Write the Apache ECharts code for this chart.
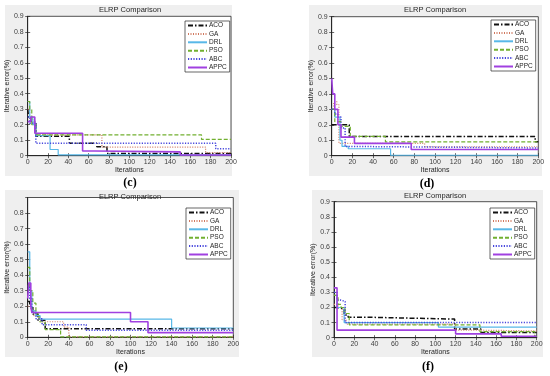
<!DOCTYPE html>
<html><head><meta charset="utf-8">
<script src="https://cdn.jsdelivr.net/npm/echarts@6/dist/echarts.min.js"></script>
<style>html,body{margin:0;padding:0;background:#fff}#c{width:550px;height:376px}</style>
</head><body><div id="c"></div>
<script>
// ---- data (iteration, iterative error) change points of each step curve ----
const seriesNames = ['ACO','GA','DRL','PSO','ABC','APPC'];
const panelLabels = ['(c)','(d)','(e)','(f)'];
const xMin = 0, xMax = 200, xStep = 20;
const yMin = 0, yMax = 0.9, yStep = 0.1;

const c_ACO  = [[0,0.30],[1,0.24],[3,0.22],[8,0.125],[41,0.08],[68,0.058],[78,0.015],[200,0.015]];
const c_GA   = [[0,0.30],[2,0.25],[5,0.20],[8,0.135],[73,0.055],[175,0.02],[200,0.02]];
const c_DRL  = [[0,0.35],[2,0.25],[5,0.20],[8,0.13],[22,0.04],[30,0.005],[200,0.005]];
const c_PSO  = [[0,0.35],[2,0.30],[4,0.20],[8,0.135],[171,0.105],[200,0.105]];
const c_ABC  = [[0,0.25],[2,0.21],[8,0.08],[185,0.045],[200,0.045]];
const c_APPC = [[0,0.22],[3,0.25],[7,0.145],[54,0.03],[66,0.025],[150,0.005],[200,0.005]];

const d_ACO  = [[0,0.20],[17,0.125],[197,0.09],[200,0.09]];
const d_GA   = [[0,0.30],[2,0.35],[5,0.33],[7,0.08],[90,0.058],[200,0.058]];
const d_DRL  = [[0,0.30],[3,0.25],[8,0.10],[10,0.06],[16,0.045],[57,0.003],[200,0.003]];
const d_PSO  = [[0,0.30],[3,0.22],[9,0.19],[18,0.125],[52,0.09],[200,0.09]];
const d_ABC  = [[0,0.30],[3,0.27],[6,0.25],[9,0.18],[13,0.06],[18,0.05],[200,0.05]];
const d_APPC = [[0,0.50],[1,0.40],[3,0.30],[6,0.20],[9,0.12],[22,0.08],[77,0.04],[200,0.04]];

const e_ACO  = [[0,0.23],[2,0.20],[5,0.15],[10,0.11],[17,0.055],[200,0.055]];
const e_GA   = [[0,0.20],[3,0.18],[6,0.14],[12,0.10],[35,0.065],[40,0.003],[200,0.003]];
const e_DRL  = [[0,0.55],[2,0.30],[4,0.17],[8,0.14],[12,0.117],[140,0.06],[200,0.06]];
const e_PSO  = [[0,0.45],[2,0.30],[5,0.22],[8,0.15],[11,0.10],[17,0.05],[32,0.003],[200,0.003]];
const e_ABC  = [[0,0.33],[2,0.25],[4,0.16],[8,0.12],[14,0.08],[57,0.045],[200,0.045]];
const e_APPC = [[0,0.25],[1,0.35],[3,0.20],[4,0.16],[100,0.10],[117,0.03],[200,0.03]];

const f_ACO  = [[0,0.20],[3,0.19],[10,0.15],[14,0.135],[37,0.123],[119,0.057],[145,0.035],[200,0.035]];
const f_GA   = [[0,0.22],[4,0.20],[8,0.12],[12,0.09],[120,0.05],[142,0.045],[200,0.045]];
const f_DRL  = [[0,0.28],[3,0.20],[10,0.10],[103,0.07],[200,0.07]];
const f_PSO  = [[0,0.28],[4,0.22],[7,0.20],[11,0.16],[15,0.085],[144,0.04],[198,0.01],[200,0.01]];
const f_ABC  = [[0,0.30],[3,0.25],[6,0.24],[11,0.10],[200,0.10]];
const f_APPC = [[0,0.33],[3,0.05],[120,0.025],[165,0.01],[200,0.01]];

const panelData = [
  [c_ACO,c_GA,c_DRL,c_PSO,c_ABC,c_APPC],
  [d_ACO,d_GA,d_DRL,d_PSO,d_ABC,d_APPC],
  [e_ACO,e_GA,e_DRL,e_PSO,e_ABC,e_APPC],
  [f_ACO,f_GA,f_DRL,f_PSO,f_ABC,f_APPC]
];

// ---- layout / styles ----
const FONT = 'Liberation Sans';
const grids = [
  {left:27.7, top:16.3, width:203.3, height:139.4},
  {left:331.7, top:16.7, width:206.6, height:139},
  {left:27.7, top:197.5, width:205.6, height:139.8},
  {left:334, top:201.7, width:202.7, height:136}
];
const panels = [
  {x:5, y:5, w:227, h:171},
  {x:309, y:5, w:233, h:171},
  {x:5, y:190, w:234, h:167},
  {x:312, y:190, w:231, h:167}
];
const titlesPos = [[130,10],[435,10],[130,197],[435,196]];
const capPos = [[130,183],[427,184],[121,367],[428,367]];
const legendPos = [[185,21],[491,20],[186,208],[490,208]];
const styles = {
  ACO:  {color:'#111111', width:1.5, type:[5,2,1.5,2]},
  GA:   {color:'#d0795f', width:1.2, type:[1,1.5]},
  DRL:  {color:'#58b8e8', width:1.2, type:'solid'},
  PSO:  {color:'#72b030', width:1.2, type:[4,2]},
  ABC:  {color:'#4646dc', width:1.5, type:[1.2,1.5]},
  APPC: {color:'#a040e0', width:1.6, type:'solid'}
};

const axisLineStyle = {lineStyle:{color:'#262626', width:0.8}};
const tick = {show:true, inside:true, length:2.5, lineStyle:{color:'#262626', width:0.7}};
const labelStyle = {fontSize:7, color:'#404040', fontFamily:FONT};

const xAxis = [], yAxis = [], series = [], legend = [], graphic = [];
panels.forEach(p => graphic.push({type:'rect', z:-10, shape:{x:p.x, y:p.y, width:p.w, height:p.h}, style:{fill:'#efefef'}}));

grids.forEach((g, i) => {
  const hideTop = (i === 2);
  xAxis.push({gridIndex:i, type:'value', min:xMin, max:xMax, interval:xStep, position:'bottom',
    name:'Iterations', nameLocation:'middle', nameGap:11, nameTextStyle:{fontSize:7, color:'#262626', fontFamily:FONT},
    axisLine:axisLineStyle, axisTick:tick, splitLine:{show:false}, axisLabel:Object.assign({margin:3}, labelStyle)});
  xAxis.push({gridIndex:i, type:'value', min:xMin, max:xMax, interval:xStep, position:'top',
    axisLine:axisLineStyle, axisTick:tick, splitLine:{show:false}, axisLabel:{show:false}});
  yAxis.push({gridIndex:i, type:'value', min:yMin, max:yMax, interval:yStep, position:'left',
    name:'Iterative error(%)', nameLocation:'middle', nameGap:i===3?16:14, nameRotate:90,
    nameTextStyle:{fontSize:7, color:'#262626', fontFamily:FONT},
    axisLine:axisLineStyle, axisTick:tick, splitLine:{show:false},
    axisLabel:Object.assign({margin:4, showMaxLabel:!hideTop, formatter:v => String(Math.round(v*10)/10)}, labelStyle)});
  yAxis.push({gridIndex:i, type:'value', min:yMin, max:yMax, interval:yStep, position:'right',
    axisLine:axisLineStyle, axisTick:tick, splitLine:{show:false}, axisLabel:{show:false}});

  seriesNames.forEach((n, k) => {
    const s = styles[n];
    series.push({name:n, type:'line', step:'end', xAxisIndex:2*i, yAxisIndex:2*i,
      data:panelData[i][k], symbol:'none', animation:false, color:s.color,
      lineStyle:{color:s.color, width:s.width, type:s.type}, z:2+k});
  });

  legend.push({data:seriesNames, orient:'vertical', left:legendPos[i][0], top:legendPos[i][1],
    itemWidth:19, itemHeight:7, itemGap:1.4, padding:[1,3,1,2],
    borderColor:'#262626', borderWidth:0.7, backgroundColor:'#ffffff', selectedMode:false,
    itemStyle:{opacity:0},
    textStyle:{fontSize:6.5, color:'#262626', fontFamily:FONT, padding:[0,0,0,-3]}});

  graphic.push({type:'text', x:titlesPos[i][0], y:titlesPos[i][1], z:10,
    style:{text:'ELRP Comparison', fill:'#262626', font:'7.5px "Liberation Sans"', textAlign:'center', textVerticalAlign:'middle'}});
  graphic.push({type:'text', x:capPos[i][0], y:capPos[i][1], z:10,
    style:{text:panelLabels[i], fill:'#000', font:'bold 12px "Liberation Serif"', textAlign:'center', textVerticalAlign:'middle'}});
});

const chart = echarts.init(document.getElementById('c'), null, {renderer:'canvas'});
chart.setOption({
  backgroundColor:'#ffffff',
  animation:false,
  grid: grids.map(g => Object.assign({show:true, backgroundColor:'#ffffff', borderColor:'#262626', borderWidth:0.8}, g)),
  xAxis, yAxis, series, legend, graphic
});
</script></body></html>
